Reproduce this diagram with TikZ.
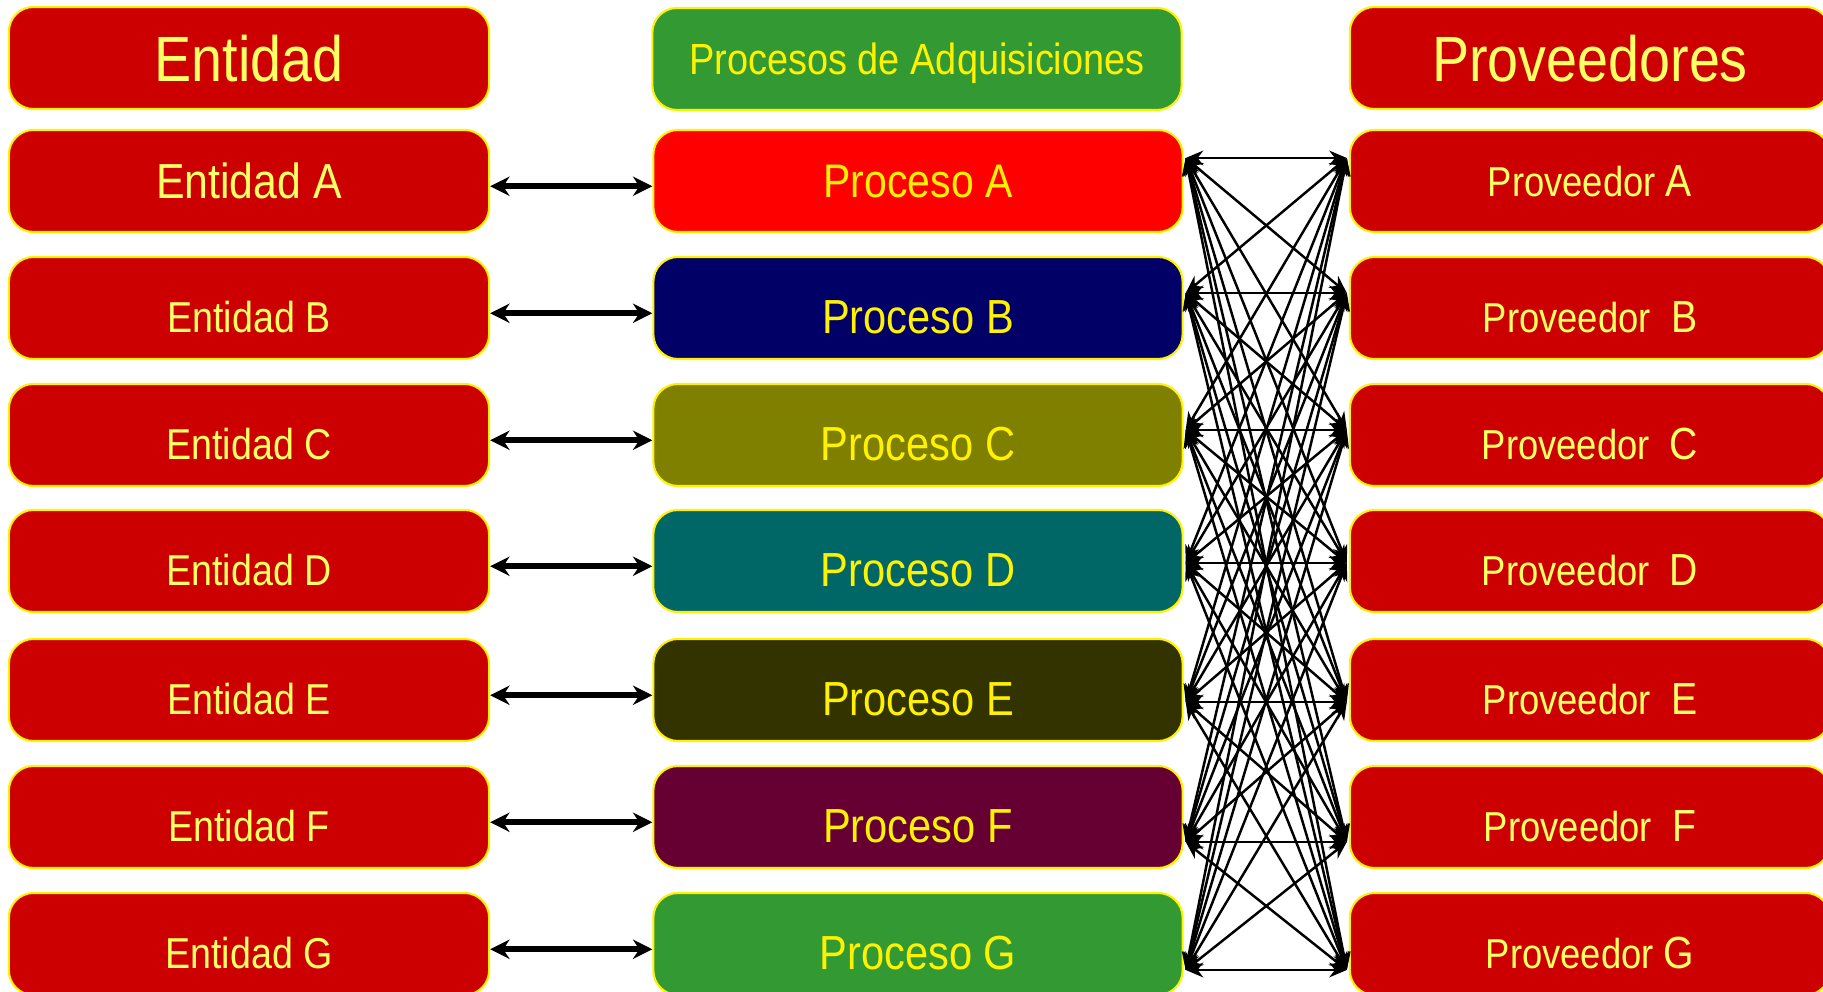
\documentclass[tikz,border=0pt]{standalone}
\usepackage{fontspec}
\setmainfont[FakeStretch=0.87]{Liberation Sans}
\usetikzlibrary{arrows.meta,calc}
\definecolor{boxred}{HTML}{CC0000}
\definecolor{headgreen}{HTML}{339933}
\definecolor{colA}{HTML}{FF0000}
\definecolor{colB}{HTML}{000066}
\definecolor{colC}{HTML}{808000}
\definecolor{colD}{HTML}{006666}
\definecolor{colE}{HTML}{333300}
\definecolor{colF}{HTML}{660033}
\definecolor{colG}{HTML}{339933}
\definecolor{txtyel}{HTML}{FFFF66}
\newcommand{\setfs}[1]{\fontsize{#1}{#1}\selectfont}
\newcommand{\lowtxt}[1]{\raisebox{-2.5pt}[\height]{#1}}

\begin{document}
\begin{tikzpicture}[x=0.01cm, y=-0.01cm,
    box/.style={draw=yellow, line width=0.6pt, rounded corners=7pt,
      minimum width=4.8cm, minimum height=1.02cm, inner sep=0pt,
      text depth=0pt, text=txtyel},
    entbox/.style={box, fill=boxred},
    procbox/.style={box, minimum width=5.29cm, text=yellow},
    link/.style={{Stealth[length=5.5pt,width=5.5pt]}-{Stealth[length=5.5pt,width=5.5pt]},
      line width=1.6pt},
    mesh/.style={{Stealth[length=5pt,width=4.2pt]}-{Stealth[length=5pt,width=4.2pt]},
      line width=0.7pt}]
  \clip (0,0) rectangle (1823,992);
  % Headers
  \node[entbox] (entHead) at (249,58) {\setfs{18.2}Entidad};
  \node[procbox, fill=headgreen] (procHead) at (917,59)
    {\setfs{12.4}Procesos de Adquisiciones};
  \node[entbox] (provHead) at (1590,58) {\setfs{18.2}Proveedores};
  % First row
  \node[entbox] (entA) at (249,181) {\setfs{14}Entidad A};
  \node[procbox, fill=colA] (procA) at (918,181) {\setfs{13.4}Proceso A};
  \node[entbox] (provA) at (1590,181)
    {\setfs{11.9}Proveedor {\setfs{12.8}A}};
  % Other rows
  \foreach \r/\y/\gap in {B/308/{\ \ }, C/435/{\ \ }, D/561/{\ \ },
                          E/690/{\ \ }, F/817/{\ \ }, G/944/{\ }} {
    \node[entbox] (ent\r) at (249,\y)
      {\setfs{12.3}\lowtxt{Entidad \r}};
    \node[procbox, fill=col\r] (proc\r) at (918,\y)
      {\setfs{13.6}\lowtxt{Proceso \r}};
    \node[entbox] (prov\r) at (1590,\y)
      {\setfs{11.9}\lowtxt{Proveedor\gap{\setfs{12.8}\r}}};
  }
  % Entidad <-> Proceso
  \foreach \r in {A,...,G}
    \draw[link] ([yshift=-1.5pt]ent\r.east) -- ([yshift=-1.5pt]proc\r.west);
  % Proceso <-> Proveedor, all pairs
  \foreach \r/\d in {A/-23, B/-15, C/-5, D/2, E/12, F/25, G/26} {
    \coordinate (p\r) at ($(proc\r.east)+(2,\d)$);
    \coordinate (v\r) at ($(prov\r.west)+(-2,\d)$);
  }
  \foreach \i in {A,...,G}
    \foreach \j in {A,...,G}
      \draw[mesh] (p\i) -- (v\j);
\end{tikzpicture}
\end{document}
